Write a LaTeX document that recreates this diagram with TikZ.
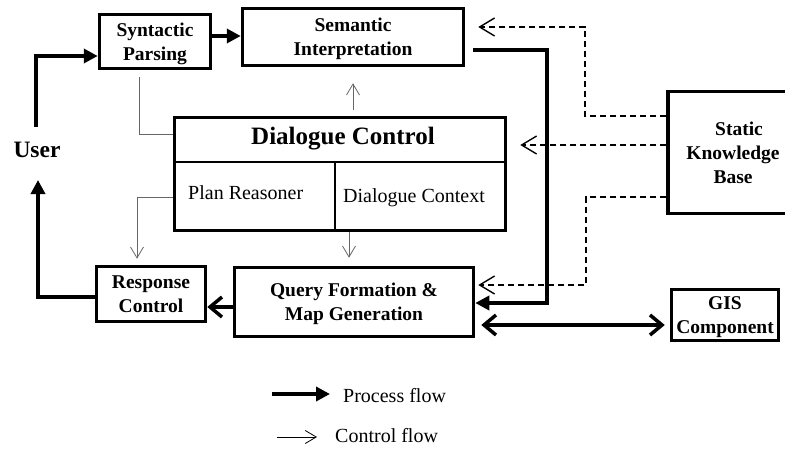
\documentclass[tikz,border=0pt]{standalone}
\usepackage{fontspec}
\setmainfont{Liberation Serif}
\usetikzlibrary{arrows.meta}
\newcommand{\boxfont}{\fontsize{19.5}{24}\selectfont\bfseries}
\newcommand{\partfont}{\fontsize{20}{24}\selectfont}
\newcommand{\titlefont}{\fontsize{25}{30}\selectfont\bfseries}
\newcommand{\userfont}{\fontsize{23.5}{28}\selectfont\bfseries}
\begin{document}
\begin{tikzpicture}[x=1pt, y=-1pt,
		box/.style={draw, line width=3.5pt, inner sep=0pt, align=center, text depth=0pt, font=\boxfont},
		part/.style={font=\partfont, anchor=base west, inner sep=0pt},
		divider/.style={line width=1.8pt},
		process/.style={line width=3.5pt, -{Triangle[length=14pt,width=14pt]}},
		answer/.style={line width=3.5pt, -{Straight Barb[length=12pt,width=20pt]}},
		exchange/.style={line width=3.5pt, {Straight Barb[length=12pt,width=20pt]}-{Straight Barb[length=12pt,width=20pt]}},
		link/.style={line width=0.8pt, black!60},
		control/.style={link, -{Straight Barb[length=11pt,width=13pt,line width=0.8pt]}},
		knowledge/.style={line width=1.8pt, dash pattern=on 6pt off 4pt, -{Straight Barb[length=15pt,width=18pt,line width=1.4pt]}}
		]
	\useasboundingbox (0,0) rectangle (785,449);

	\node [box, minimum width=111pt, minimum height=54pt] (synt) at (155,41.5) {Syntactic\\Parsing};
	\node [box, minimum width=221pt, minimum height=57pt] (sem) at (353,37) {Semantic\\Interpretation};
	\node [box, minimum width=331pt, minimum height=113pt] (dlg) at (340,174) {};
	\node [box, minimum width=109pt, minimum height=55pt] (resp) at (151,294) {Response\\Control};
	\node [box, minimum width=239pt, minimum height=69pt] (query) at (354,302) {Query Formation \&\\Map Generation};
	\node [box, minimum width=130pt, minimum height=122pt] (skb) at (733,152.5) {\hspace*{12pt}Static\\Knowledge\\Base};
	\node [box, minimum width=107pt, minimum height=51pt] (gis) at (725,315) {GIS\\Component};
	\node [font=\userfont, inner sep=0pt] (user) at (37,150) {User};

	% inside of the dialogue control box
	\node [font=\titlefont] (dlgtitle) at (343,139) {Dialogue Control};
	\draw [divider] (dlg.west |- 0,162) -- (dlg.east |- 0,162);
	\draw [divider] (335,162) -- (335,0 |- dlg.south);
	\node [part] (plan) at (188,200) {Plan Reasoner};
	\node [part] (ctx) at (343,203) {Dialogue Context};

	% process flow
	\draw [process, shorten <=15pt] (user.north -| 36,0) |- (synt.west |- 0,56);
	\draw [process] (synt.east |- 0,36) -- (sem.west |- 0,36);
	\coordinate (bend) at (547,303);
	\draw [process, shorten <=8pt] (sem.east |- 0,50) -| (bend) -- (query.east |- bend);
	\draw [answer] (query.west |- 0,307) -- (resp.east |- 0,307);
	\draw [process, shorten >=22pt] (resp.west |- 0,297) -| (user.south -| 38,0);
	\draw [exchange, shorten <=6pt, shorten >=5pt] (query.east |- 0,325) -- (gis.west |- 0,325);

	% knowledge base
	\draw [knowledge, shorten >=13pt] (skb.west |- 0,116) -| (585,27) -- (sem.east |- 0,27);
	\draw [knowledge, shorten >=13pt] (skb.west |- 0,145) -- (dlg.east |- 0,145);
	\draw [knowledge, shorten >=3pt] (skb.west |- 0,197) -| (586,285) -- (query.east |- 0,285);

	% control flow
	\draw [link, shorten <=7pt] (synt.south -| 139,0) |- (dlg.west |- 0,134);
	\draw [control, shorten <=6pt, shorten >=16pt] (dlg.north -| 353,0) -- (sem.south -| 353,0);
	\draw [control, shorten >=6pt] (dlg.west |- 0,197) -| (resp.north -| 137,0);
	\draw [control, shorten >=8pt] (dlg.south -| 349,0) -- (query.north -| 349,0);

	% legend
	\node [part] (lproc) at (343,402) {Process flow};
	\node [part] (lctrl) at (335,442) {Control flow};
	\coordinate (lp) at (272,394);
	\coordinate (lc) at (277,437);
	\draw [process, shorten >=13pt] (lp) -- (lproc.west |- lp);
	\draw [control, black, shorten >=18pt] (lc) -- (lctrl.west |- lc);
\end{tikzpicture}
\end{document}
